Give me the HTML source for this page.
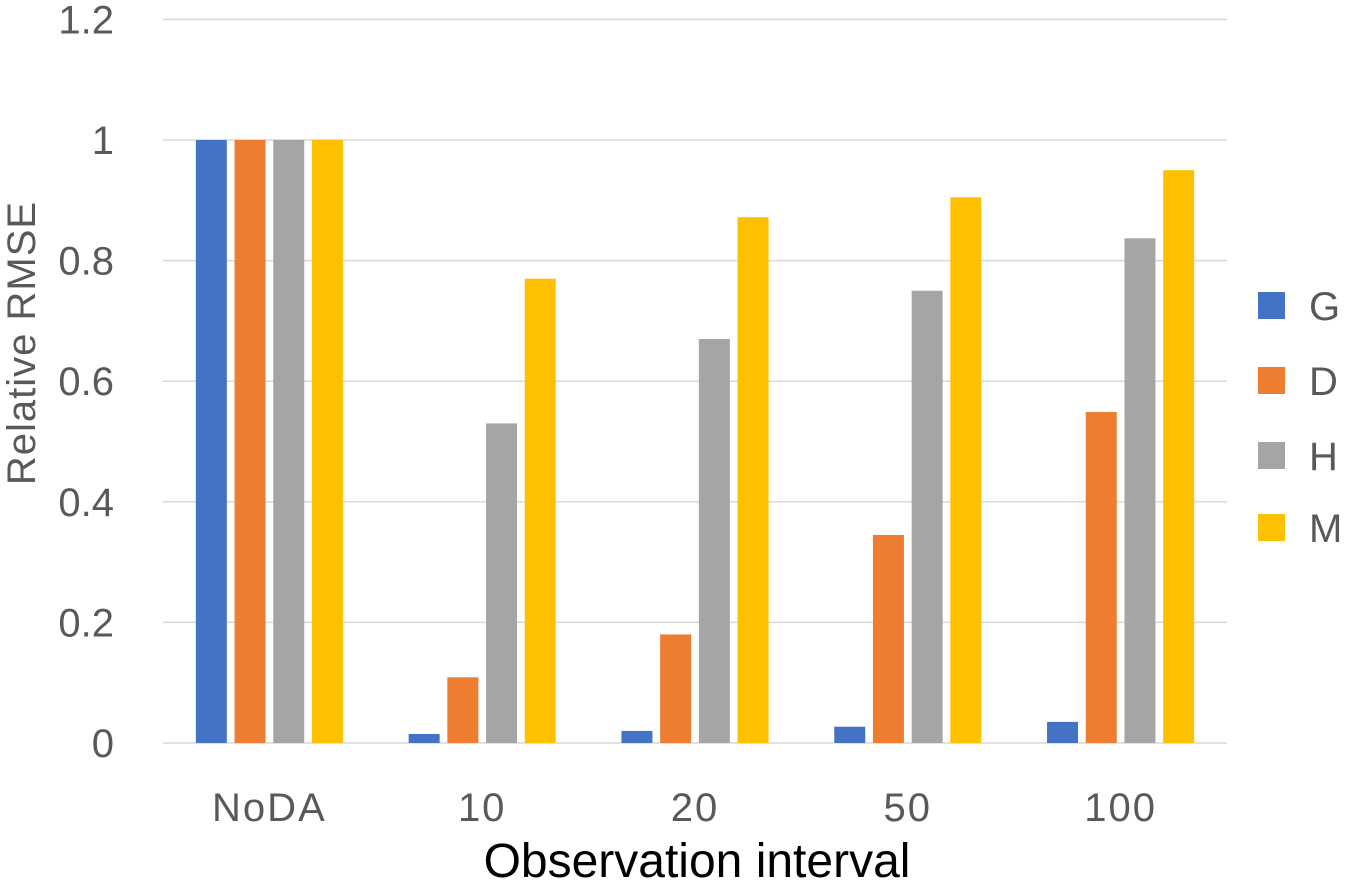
<!DOCTYPE html>
<html><head><meta charset="utf-8"><style>
body{margin:0;background:#fff;}
svg{display:block;font-family:"Liberation Sans",sans-serif;}
</style></head><body>
<svg id="chart" width="1347" height="884"></svg>
<script>
const categories=["NoDA","10","20","50","100"];
const seriesNames=["G","D","H","M"];
const seriesG=[1,0.015,0.02,0.027,0.035];
const seriesD=[1,0.109,0.18,0.345,0.549];
const seriesH=[1,0.53,0.67,0.75,0.837];
const seriesM=[1,0.77,0.872,0.905,0.95];
const yTicks=[0,0.2,0.4,0.6,0.8,1,1.2];
const yTickLabels=["0","0.2","0.4","0.6","0.8","1","1.2"];
const colors=["#4472c4","#ed7d31","#a5a5a5","#ffc000"];
const allSeries=[seriesG,seriesD,seriesH,seriesM];
const NS="http://www.w3.org/2000/svg";
const svg=document.getElementById('chart');
const left=163,right=1227,y0=743,y1=140;
const yScale=v=>y0-(y0-y1)*v;
const band=(right-left)/categories.length;
function mk(t,a,txt){const e=document.createElementNS(NS,t);for(const k in a)e.setAttribute(k,a[k]);if(txt!=null)e.textContent=txt;svg.appendChild(e);return e;}
yTicks.forEach((v,i)=>{
 const g=mk('line',{x1:left,x2:right,y1:yScale(v),y2:yScale(v),stroke:'#d9d9d9','stroke-width':1.5});
 
 
 const t=mk('text',{x:114,y:yScale(v)+14,'text-anchor':'end','font-size':40,fill:'#595959'},yTickLabels[i]);
 
 
});
const bw=31,step=38.7;
categories.forEach((c,ci)=>{
 const cx=left+band*(ci+0.5);
 allSeries.forEach((s,si)=>{
  const x=cx-2*step+si*step+(step-bw)/2;
  const r=mk('rect',{x:x,y:yScale(s[ci]),width:bw,height:y0-yScale(s[ci]),fill:colors[si]});
  
  
 });
 const t=mk('text',{x:cx,y:821,'text-anchor':'middle','font-size':40,fill:'#595959','letter-spacing':2},c);
 
 
});
const xt=mk('text',{x:697,y:877,'text-anchor':'middle','font-size':48,fill:'#000'},'Observation interval');


const yt=mk('text',{x:0,y:0,'text-anchor':'middle','font-size':40,fill:'#595959','letter-spacing':1,transform:'translate(35,343) rotate(-90)'},'Relative RMSE');


const ly=[305,380,455,527];
seriesNames.forEach((n,i)=>{
 const r=mk('rect',{x:1258,y:ly[i]-13,width:27,height:27,fill:colors[i]});
 
 
 const t=mk('text',{x:1309,y:ly[i]+15,'font-size':40,fill:'#595959'},n);
 
 
});
</script>
</body></html>
